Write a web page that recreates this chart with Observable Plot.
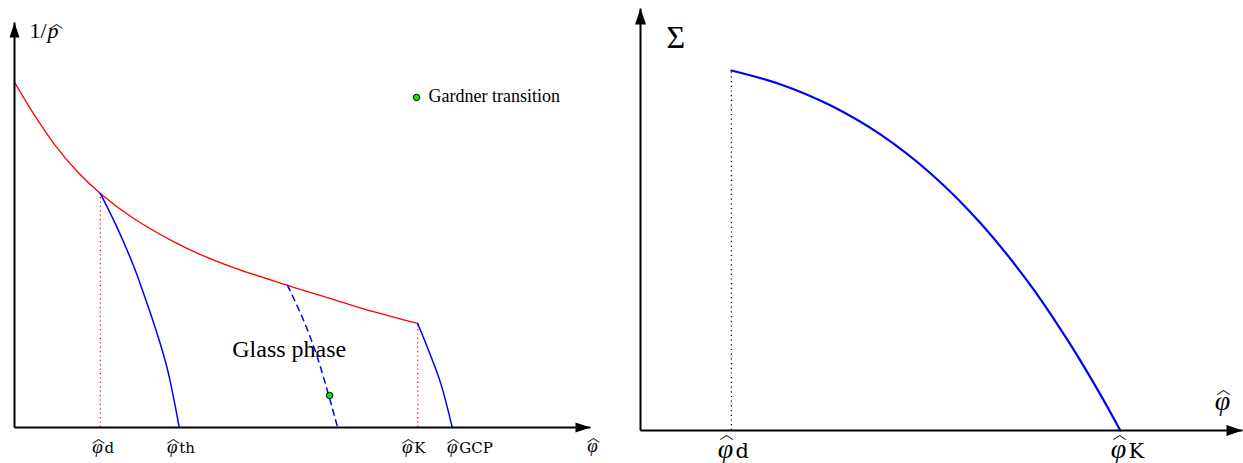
<!DOCTYPE html>
<html><head><meta charset="utf-8">
<script src="https://cdn.jsdelivr.net/npm/d3@7"></script>
<script src="https://cdn.jsdelivr.net/npm/@observablehq/plot@0.6"></script>
<style>
body{margin:0;background:#fff}
#wrap{position:relative;width:1243px;height:463px;overflow:hidden}
#wrap svg{position:absolute;top:0}
</style>
</head><body><div id="wrap"></div>
<script>
// ---------- Left panel data (phi-hat, 1/p-hat), arbitrary units 0..10 ----------
const liquidPhi  = [0, 0.33, 0.71, 1.09, 1.49, 2.07, 2.76, 3.23, 3.80, 4.74, 5.54, 6.23, 7.00];
const liquidInvP = [8.52, 7.75, 6.96, 6.32, 5.78, 5.16, 4.59, 4.27, 3.95, 3.51, 3.16, 2.86, 2.57];
const glassDPhi  = [1.49, 1.79, 2.07, 2.27, 2.48, 2.66, 2.86];
const glassDInvP = [5.78, 4.91, 3.98, 3.19, 2.30, 1.41, 0];
const gardnerPhi  = [4.74, 5.02, 5.26, 5.61];
const gardnerInvP = [3.51, 2.64, 1.73, 0];
const gardnerPoint = {phi: 5.47, invP: 0.79};
const glassKPhi  = [7.00, 7.19, 7.40, 7.60];
const glassKInvP = [2.57, 1.90, 1.09, 0];
const leftDropPhi = [1.49, 7.00];
const leftDropTop = [5.78, 2.57];
const leftTickPos = [1.44, 2.74, 6.82, 7.60];
const leftTickSub = ["d", "th", "K", "GCP"];
const legendPos = {phi: 6.98, invP: 8.15};
const legendLabel = "Gardner transition";
const glassLabel = {phi: 4.77, invP: 1.73, text: "Glass phase"};

// ---------- Right panel data (phi-hat, Sigma) ----------
const sigmaPhi = [1.51, 2.33, 3.16, 3.99, 4.82, 5.65, 6.48, 7.14, 7.64, 7.97];
const sigmaVal = [8.53, 8.20, 7.70, 7.01, 6.09, 4.91, 3.44, 2.04, 0.85, 0];
const rightDropPhi = [1.51];
const rightDropTop = [8.53];
const rightTickPos = [1.41, 7.94];
const rightTickSub = ["d", "K"];

const PHI = "\u03C6";
const HAT = "\uFE3F";
const HATFONT = "Noto Sans CJK SC";
const SERIF = "Liberation Serif, DejaVu Serif, serif";
const pts = (xs, ys) => xs.map((x, i) => ({x, y: ys[i]}));

function fixArrows(svg, len, half) {
  d3.select(svg).selectAll("marker").each(function () {
    const m = d3.select(this);
    m.attr("viewBox", `${-len - 1} ${-half - 1} ${len + 2} ${2 * half + 2}`)
     .attr("markerWidth", len + 2).attr("markerHeight", 2 * half + 2)
     .attr("markerUnits", "userSpaceOnUse")
     .attr("refX", 0).attr("refY", 0)
     .attr("fill", "black").attr("stroke", "none");
    m.selectAll("path").attr("d", `M${-len},${-half}L0,0L${-len},${half}Z`);
  });
}

const axisMarks = () => [
  Plot.link([0], {x1: 0, y1: 0, x2: 10, y2: 0, stroke: "black", strokeWidth: 2, markerEnd: "arrow"}),
  Plot.link([0], {x1: 0, y1: 0, x2: 0, y2: 10, stroke: "black", strokeWidth: 2, markerEnd: "arrow"})
];

function phiLabel(data, {x, y, dy, hatDy, size, hatSize, sub, subSize, subDx, dx = 0}) {
  const marks = [
    Plot.text(data, {x, y, text: () => PHI, dx, dy, textAnchor: "middle", lineAnchor: "bottom", fontSize: size, fontStyle: "italic", fontFamily: SERIF, fill: "black"}),
    Plot.text(data, {x, y, text: () => HAT, dx: dx + 1, dy: hatDy, textAnchor: "middle", lineAnchor: "bottom", fontSize: hatSize, fontFamily: HATFONT, fill: "black"})
  ];
  if (sub) marks.push(Plot.text(data, {x, y, text: sub, dx: dx + subDx, dy, textAnchor: "start", lineAnchor: "bottom", fontSize: subSize, fontFamily: "DejaVu Serif", fill: "black"}));
  return marks;
}

const left = Plot.plot({
  width: 620, height: 463,
  marginLeft: 14, marginRight: 30, marginTop: 22, marginBottom: 36,
  x: {domain: [0, 10], axis: null},
  y: {domain: [0, 10], axis: null},
  style: {background: "transparent", overflow: "visible"},
  marks: [
    Plot.ruleX(leftDropPhi, {x: d => d, y1: 0, y2: (d, i) => leftDropTop[i], stroke: "red", strokeWidth: 1.2, strokeDasharray: "1.2,3.2"}),
    Plot.line(pts(liquidPhi, liquidInvP), {x: "x", y: "y", stroke: "red", strokeWidth: 1.3, curve: "catmull-rom"}),
    Plot.line(pts(glassDPhi, glassDInvP), {x: "x", y: "y", stroke: "blue", strokeWidth: 1.5, curve: "catmull-rom"}),
    Plot.line(pts(gardnerPhi, gardnerInvP), {x: "x", y: "y", stroke: "blue", strokeWidth: 1.5, strokeDasharray: "6,5", curve: "catmull-rom"}),
    Plot.line(pts(glassKPhi, glassKInvP), {x: "x", y: "y", stroke: "blue", strokeWidth: 1.5, curve: "catmull-rom"}),
    Plot.dot([gardnerPoint], {x: "phi", y: "invP", r: 3.2, fill: "#00ee00", stroke: "black", strokeWidth: 1}),
    Plot.dot([legendPos], {x: "phi", y: "invP", r: 3.2, fill: "#00ee00", stroke: "black", strokeWidth: 1}),
    Plot.text([legendPos], {x: "phi", y: "invP", text: () => legendLabel, dx: 12, dy: 5, textAnchor: "start", lineAnchor: "bottom", fontSize: 18, fontFamily: SERIF, fill: "black"}),
    Plot.text([glassLabel], {x: "phi", y: "invP", text: "text", textAnchor: "middle", lineAnchor: "bottom", fontSize: 24, fontFamily: SERIF, fill: "black"}),
    ...axisMarks(),
    ...phiLabel(leftTickPos, {x: d => d, y: 0, dy: 25, hatDy: 14, size: 19, hatSize: 13, sub: (d, i) => leftTickSub[i], subSize: 15, subDx: 7}),
    ...phiLabel([10], {x: d => d, y: 0, dx: 2, dy: 24, hatDy: 13, size: 19, hatSize: 13}),
    Plot.text([10], {x: 0, y: d => d, text: () => "1/", dx: 15, dy: 15, textAnchor: "start", lineAnchor: "bottom", fontSize: 22, fontFamily: SERIF, fill: "black"}),
    Plot.text([10], {x: 0, y: d => d, text: () => "p", dx: 33, dy: 15, textAnchor: "start", lineAnchor: "bottom", fontSize: 22, fontStyle: "italic", fontFamily: SERIF, fill: "black"}),
    Plot.text([10], {x: 0, y: d => d, text: () => HAT, dx: 42, dy: 4, textAnchor: "middle", lineAnchor: "bottom", fontSize: 13, fontFamily: HATFONT, fill: "black"})
  ]
});
fixArrows(left, 15, 5);

const right = Plot.plot({
  width: 623, height: 463,
  marginLeft: 20, marginRight: 1, marginTop: 8, marginBottom: 33,
  x: {domain: [0, 10], axis: null},
  y: {domain: [0, 10], axis: null},
  style: {background: "transparent", overflow: "visible"},
  marks: [
    Plot.ruleX(rightDropPhi, {x: d => d, y1: 0, y2: (d, i) => rightDropTop[i], stroke: "black", strokeWidth: 1.2, strokeDasharray: "1.2,3.5"}),
    Plot.line(pts(sigmaPhi, sigmaVal), {x: "x", y: "y", stroke: "blue", strokeWidth: 2.2, curve: "catmull-rom"}),
    ...axisMarks(),
    ...phiLabel(rightTickPos, {x: d => d, y: 0, dy: 27, hatDy: 7, size: 28, hatSize: 14, sub: (d, i) => rightTickSub[i], subSize: 21, subDx: 10}),
    ...phiLabel([10], {x: d => d, y: 0, dx: -20, dy: -21, hatDy: -38, size: 28, hatSize: 14}),
    Plot.text([10], {x: 0, y: d => d, text: () => "\u03A3", dx: 26, dy: 39, textAnchor: "start", lineAnchor: "bottom", fontSize: 32, fontFamily: SERIF, fill: "black"})
  ]
});
fixArrows(right, 16, 5.5);
right.style.left = "620px";
left.style.left = "0px";

const wrap = document.getElementById("wrap");
wrap.appendChild(left);
wrap.appendChild(right);
</script>
</body></html>
